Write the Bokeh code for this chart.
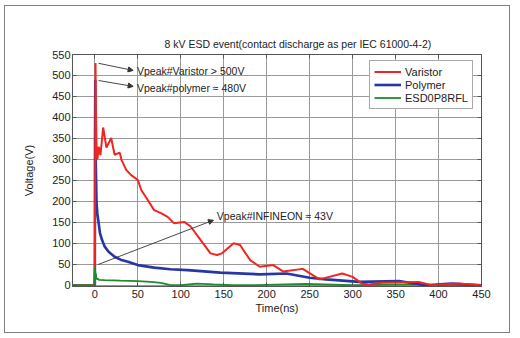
from bokeh.plotting import figure
from bokeh.embed import file_html
from bokeh.resources import INLINE
from bokeh.models import (LinearAxis, FixedTicker, CustomJSTickFormatter, Arrow,
                          NormalHead, Label, Legend, LegendItem, Range1d)

# ---- data ----
varistor_t = [-26, -0.5, 0, 0.8, 1.2, 2.0, 3.0, 4.5, 6.5, 9.7, 13.5, 19, 23, 29, 31, 36.5, 42, 50, 54,
              61.6, 69, 77, 84.7, 92, 104, 111.5, 123, 134.6, 142, 148, 161.5, 169, 180.7, 192,
              207.6, 219, 242, 261.5, 288, 300, 311, 319, 334, 377, 392, 423, 450]
varistor_v = [0, 0, 0, 530, 420, 330, 300, 330, 310, 376, 328, 351, 311, 316, 299, 275, 263, 251, 227,
              203, 179, 172, 163, 148, 151, 140, 108, 76, 72, 76, 100, 96, 60, 44,
              48, 33, 39, 14, 28, 20, 4, 2, 6, 8, 0, 4, 0]

polymer_t = [-26, -0.5, 0, 0.2, 0.5, 1, 1.5, 2, 3, 4, 6, 8, 11.5, 16, 23, 30, 38.5, 50, 69, 88, 108,
             146, 192, 223, 250, 269, 307.6, 354, 384.6, 415, 450]
polymer_v = [0, 0, 0, 340, 490, 300, 250, 196, 170, 155, 124, 110, 92, 80, 68, 61, 56, 48, 42, 38, 36,
             30, 26, 28, 18, 14, 8, 10, 0, 4, 0]

esd_t = [-26, -0.5, 0, 0.5, 2, 5, 11.5, 30, 50, 65, 77, 88, 100, 119, 138, 160, 180, 200, 245, 300,
         370, 400, 450]
esd_v = [0, 0, 44, 30, 16, 13, 12, 11, 10, 8, 5.5, 0, 0, 4, 2, 0, 0, 1, 3, 0, 2, 0, 0]

x_ticks = [0, 50, 100, 150, 200, 250, 300, 350, 400, 450]
y_ticks = [0, 50, 100, 150, 200, 250, 300, 350, 400, 450, 500, 550]

FONT = "Liberation Sans"

p = figure(width=506, height=328, output_backend="svg", toolbar_location=None,
           x_range=Range1d(-26, 450), y_range=Range1d(-3, 550),
           min_border_left=67, min_border_right=30, min_border_top=48, min_border_bottom=48,
           margin=(5, 0, 0, 4), styles={"border": "1px solid #808080"},
           title="8 kV ESD event(contact discharge as per IEC 61000-4-2)")
p.title.align = "left"
p.title.offset = 92
p.title.text_font = FONT
p.title.text_font_size = "10.5px"
p.title.text_font_style = "normal"
p.title.text_color = "#222222"

p.outline_line_color = "#555555"
p.background_fill_color = "white"
p.border_fill_color = "white"

for ax in (p.xaxis[0], p.yaxis[0]):
    ax.major_label_text_font = FONT
    ax.major_label_text_font_size = "11px"
    ax.major_label_text_color = "#222222"
    ax.axis_label_text_font = FONT
    ax.axis_label_text_font_size = "11px"
    ax.axis_label_text_font_style = "normal"
    ax.axis_label_text_color = "#222222"
    ax.major_tick_in = 4
    ax.major_tick_out = 0
    ax.minor_tick_line_color = None
    ax.axis_line_color = "#555555"
    ax.major_tick_line_color = "#555555"

p.xaxis[0].ticker = FixedTicker(ticks=x_ticks)
p.yaxis[0].ticker = FixedTicker(ticks=y_ticks)
p.xaxis[0].axis_label = "Time(ns)"
p.yaxis[0].axis_label = "Voltage(V)"
p.xaxis[0].major_label_standoff = 3
p.xaxis[0].axis_label_standoff = 1
p.yaxis[0].major_label_standoff = 2
p.yaxis[0].axis_label_standoff = 14

blank = CustomJSTickFormatter(code="return ''")
top = LinearAxis(ticker=FixedTicker(ticks=x_ticks), formatter=blank, major_tick_in=4, major_tick_out=0,
                 minor_tick_line_color=None, major_label_text_font_size="1px", major_label_standoff=0,
                 axis_line_color="#555555", major_tick_line_color="#555555")
right = LinearAxis(ticker=FixedTicker(ticks=y_ticks), formatter=blank, major_tick_in=4, major_tick_out=0,
                   minor_tick_line_color=None, major_label_text_font_size="1px", major_label_standoff=0,
                   axis_line_color="#555555", major_tick_line_color="#555555")
p.add_layout(top, "above")
p.add_layout(right, "right")

p.xgrid.ticker = FixedTicker(ticks=x_ticks)
p.ygrid.ticker = FixedTicker(ticks=y_ticks)
p.xgrid.grid_line_color = "#9a9a9a"
p.ygrid.grid_line_color = "#9a9a9a"
p.xgrid.grid_line_width = 1
p.ygrid.grid_line_width = 1

r_esd = p.line(esd_t, esd_v, line_color="#1f8a2e", line_width=1.8)
r_pol = p.line(polymer_t, polymer_v, line_color="#2537a6", line_width=2.6)
r_var = p.line(varistor_t, varistor_v, line_color="#f2241f", line_width=2.0)
# draw green on top at the start
r_esd2 = p.line(esd_t[:6], esd_v[:6], line_color="#1f8a2e", line_width=1.8)

legend = Legend(items=[LegendItem(label="Varistor", renderers=[r_var]),
                       LegendItem(label="Polymer", renderers=[r_pol]),
                       LegendItem(label="ESD0P8RFL", renderers=[r_esd])],
                location=(297, 177))
legend.margin = 0
legend.padding = 4
legend.spacing = 0
legend.label_text_font = FONT
legend.label_text_font_size = "11px"
legend.label_text_color = "#222222"
legend.label_height = 13
legend.glyph_height = 13
legend.glyph_width = 27
legend.label_standoff = 4
legend.border_line_color = "#555555"
legend.border_line_width = 1
legend.background_fill_alpha = 1
p.add_layout(legend)

# annotations
ann_text = ["Vpeak#Varistor  >  500V", "Vpeak#polymer  \u2248  480V", "Vpeak#INFINEON  \u2248  43V"]
ann_start = [(4.3, 529), (4.3, 488), (3.9, 49.5)]
ann_end = [(44.6, 512), (44.6, 474), (138, 155)]
ann_text_pos = [(49, 511), (49, 471), (142, 164)]

for txt, s, e, tp in zip(ann_text, ann_start, ann_end, ann_text_pos):
    p.add_layout(Arrow(x_start=s[0], y_start=s[1], x_end=e[0], y_end=e[1],
                       line_color="#333333", line_width=0.9,
                       end=NormalHead(size=5, fill_color="#333333", line_color="#333333")))
    p.add_layout(Label(x=tp[0], y=tp[1], text=txt, text_font=FONT, text_font_size="10.5px",
                       text_color="#222222", text_baseline="middle",
                       background_fill_color="white", background_fill_alpha=0.0))

open("out.html", "w").write(file_html(p, INLINE))
